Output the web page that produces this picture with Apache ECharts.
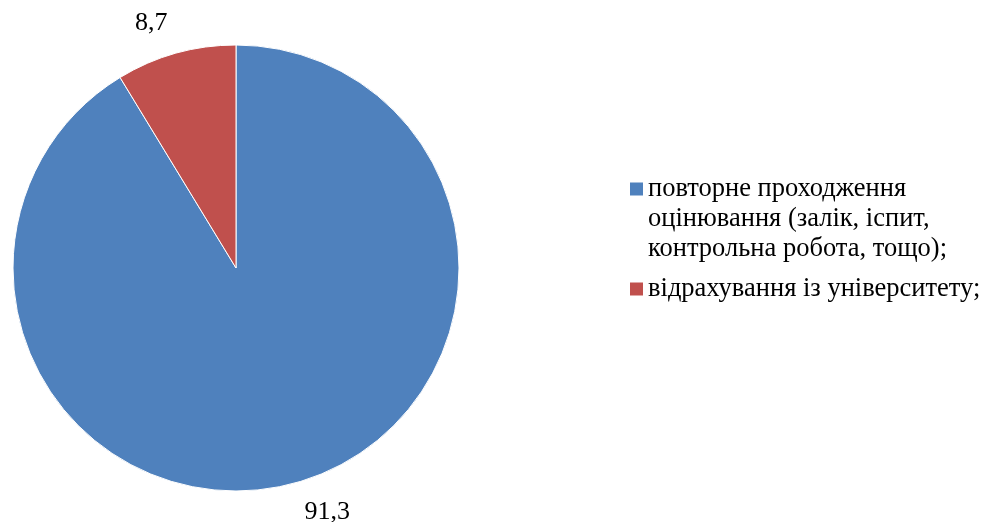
<!DOCTYPE html>
<html>
<head>
<meta charset="utf-8">
<style>
  html, body { margin: 0; padding: 0; background: #fff; }
  #chart { width: 981px; height: 522px; }
</style>
<script src="https://cdn.jsdelivr.net/npm/echarts@6/dist/echarts.min.js"></script>
</head>
<body>
<div id="chart"></div>
<script>
  // дані діаграми
  var categories = [
    'повторне проходження оцінювання (залік, іспит, контрольна робота, тощо);',
    'відрахування із університету;'
  ];
  var values = [91.3, 8.7];
  var colors = ['#4F81BD', '#C0504D'];
  // як розбиваються підписи легенди
  var legendLines = [
    ['повторне проходження', 'оцінювання (залік, іспит,', 'контрольна робота, тощо);'],
    ['відрахування із університету;']
  ];

  var font = '"Liberation Serif", "Times New Roman", serif';
  var lineH = 30;

  var pieData = [];
  for (var i = 0; i < categories.length; i++) {
    pieData.push({ name: categories[i], value: values[i], itemStyle: { color: colors[i] } });
  }

  // маркер легенди стоїть навпроти першого рядка: додаємо порожні рядки зверху,
  // щоб середній рядок блоку був першим рядком підпису
  function legendText(name) {
    var lines = legendLines[categories.indexOf(name)];
    var pad = [];
    for (var k = 1; k < lines.length; k++) pad.push('');
    return pad.concat(lines).join('\n');
  }

  var chart = echarts.init(document.getElementById('chart'));
  var option = {
    backgroundColor: '#fff',
    animation: false,
    legend: {
      data: categories,
      orient: 'vertical',
      left: 630,
      top: 189 - 2.5 * lineH,
      padding: 0,
      itemGap: 10,
      itemWidth: 13,
      itemHeight: 13,
      icon: 'rect',
      selectedMode: false,
      itemStyle: { borderWidth: 0 },
      formatter: legendText,
      textStyle: {
        fontFamily: font,
        fontSize: 26.5,
        color: '#000',
        lineHeight: lineH
      }
    },
    series: [{
      type: 'pie',
      center: [236, 268],
      radius: 223,
      startAngle: 90,
      clockwise: true,
      data: pieData,
      itemStyle: { borderColor: '#fff', borderWidth: 1 },
      label: {
        show: true,
        position: 'outside',
        distanceToLabelLine: 0,
        formatter: function (p) { return String(p.value).replace('.', ','); },
        fontFamily: font,
        fontSize: 26,
        color: '#000'
      },
      labelLine: { show: false, length: 31, length2: 0 },
      emphasis: { disabled: true }
    }]
  };
  chart.setOption(option);
</script>
</body>
</html>
